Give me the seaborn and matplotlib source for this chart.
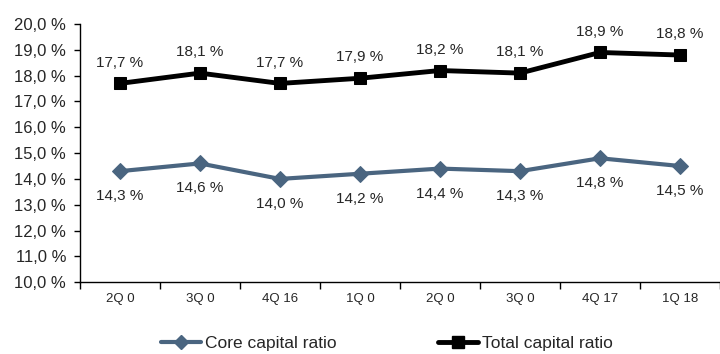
import matplotlib
matplotlib.use("Agg")
import matplotlib.pyplot as plt
import seaborn as sns
import pandas as pd
from matplotlib.lines import Line2D

quarters = ["2Q 0", "3Q 0", "4Q 16", "1Q 0", "2Q 0", "3Q 0", "4Q 17", "1Q 18"]
core_ratio = [14.3, 14.6, 14.0, 14.2, 14.4, 14.3, 14.8, 14.5]
total_ratio = [17.7, 18.1, 17.7, 17.9, 18.2, 18.1, 18.9, 18.8]

core_color = "#4A6580"
total_color = "#000000"

sns.set_theme(style="white")
plt.rcParams["font.family"] = ["Liberation Sans", "DejaVu Sans"]

df = pd.DataFrame({
    "pos": list(range(len(quarters))),
    "core": core_ratio,
    "total": total_ratio,
})

fig = plt.figure(figsize=(7.2, 3.54), dpi=100)
ax = fig.add_axes([0.111, 0.203, 0.889, 0.729])

sns.lineplot(data=df, x="pos", y="core", ax=ax, color=core_color, lw=3,
             marker="D", markersize=8.5, markeredgecolor=core_color)
sns.lineplot(data=df, x="pos", y="total", ax=ax, color=total_color, lw=3.5,
             marker="s", markersize=9, markeredgecolor=total_color)

fmt = lambda v: f"{v:.1f}".replace(".", ",") + " %"
for i, v in enumerate(total_ratio):
    ax.annotate(fmt(v), (i, v), xytext=(0, 10), textcoords="offset points",
                ha="center", va="bottom", fontsize=11)
for i, v in enumerate(core_ratio):
    ax.annotate(fmt(v), (i, v), xytext=(0, -13), textcoords="offset points",
                ha="center", va="top", fontsize=11)

ax.set_xlim(-0.5, len(quarters) - 0.5)
ax.set_ylim(10, 20)
ax.set_yticks([10 + k for k in range(11)])
ax.set_yticklabels([fmt(10 + k) for k in range(11)], fontsize=12)
ax.set_xticks(range(len(quarters)))
ax.set_xticklabels(quarters, fontsize=9.5)
ax.set_xticks([k + 0.5 for k in range(-1, len(quarters))], minor=True)
ax.tick_params(axis="x", which="major", length=0, pad=8)
ax.tick_params(axis="x", which="minor", length=5, width=1, color="black", direction="out", bottom=True)
ax.tick_params(axis="y", length=4, width=1, color="black", direction="out", left=True, pad=6)
ax.set_xlabel("")
ax.set_ylabel("")

for side in ["top", "right"]:
    ax.spines[side].set_visible(False)
for side in ["left", "bottom"]:
    ax.spines[side].set_color("black")
    ax.spines[side].set_linewidth(1)

handles = [
    Line2D([], [], color=core_color, lw=3, marker="D", markersize=7),
    Line2D([], [], color=total_color, lw=3.5, marker="s", markersize=8),
]
fig.legend(handles, ["Core capital ratio", "Total capital ratio"],
           loc="center", bbox_to_anchor=(0.5375, 0.031), ncol=2, frameon=False,
           fontsize=12.5, handlelength=2.3, columnspacing=5.8, handletextpad=0.25,
           borderpad=0, borderaxespad=0)

fig.savefig("out.png", dpi=100)
